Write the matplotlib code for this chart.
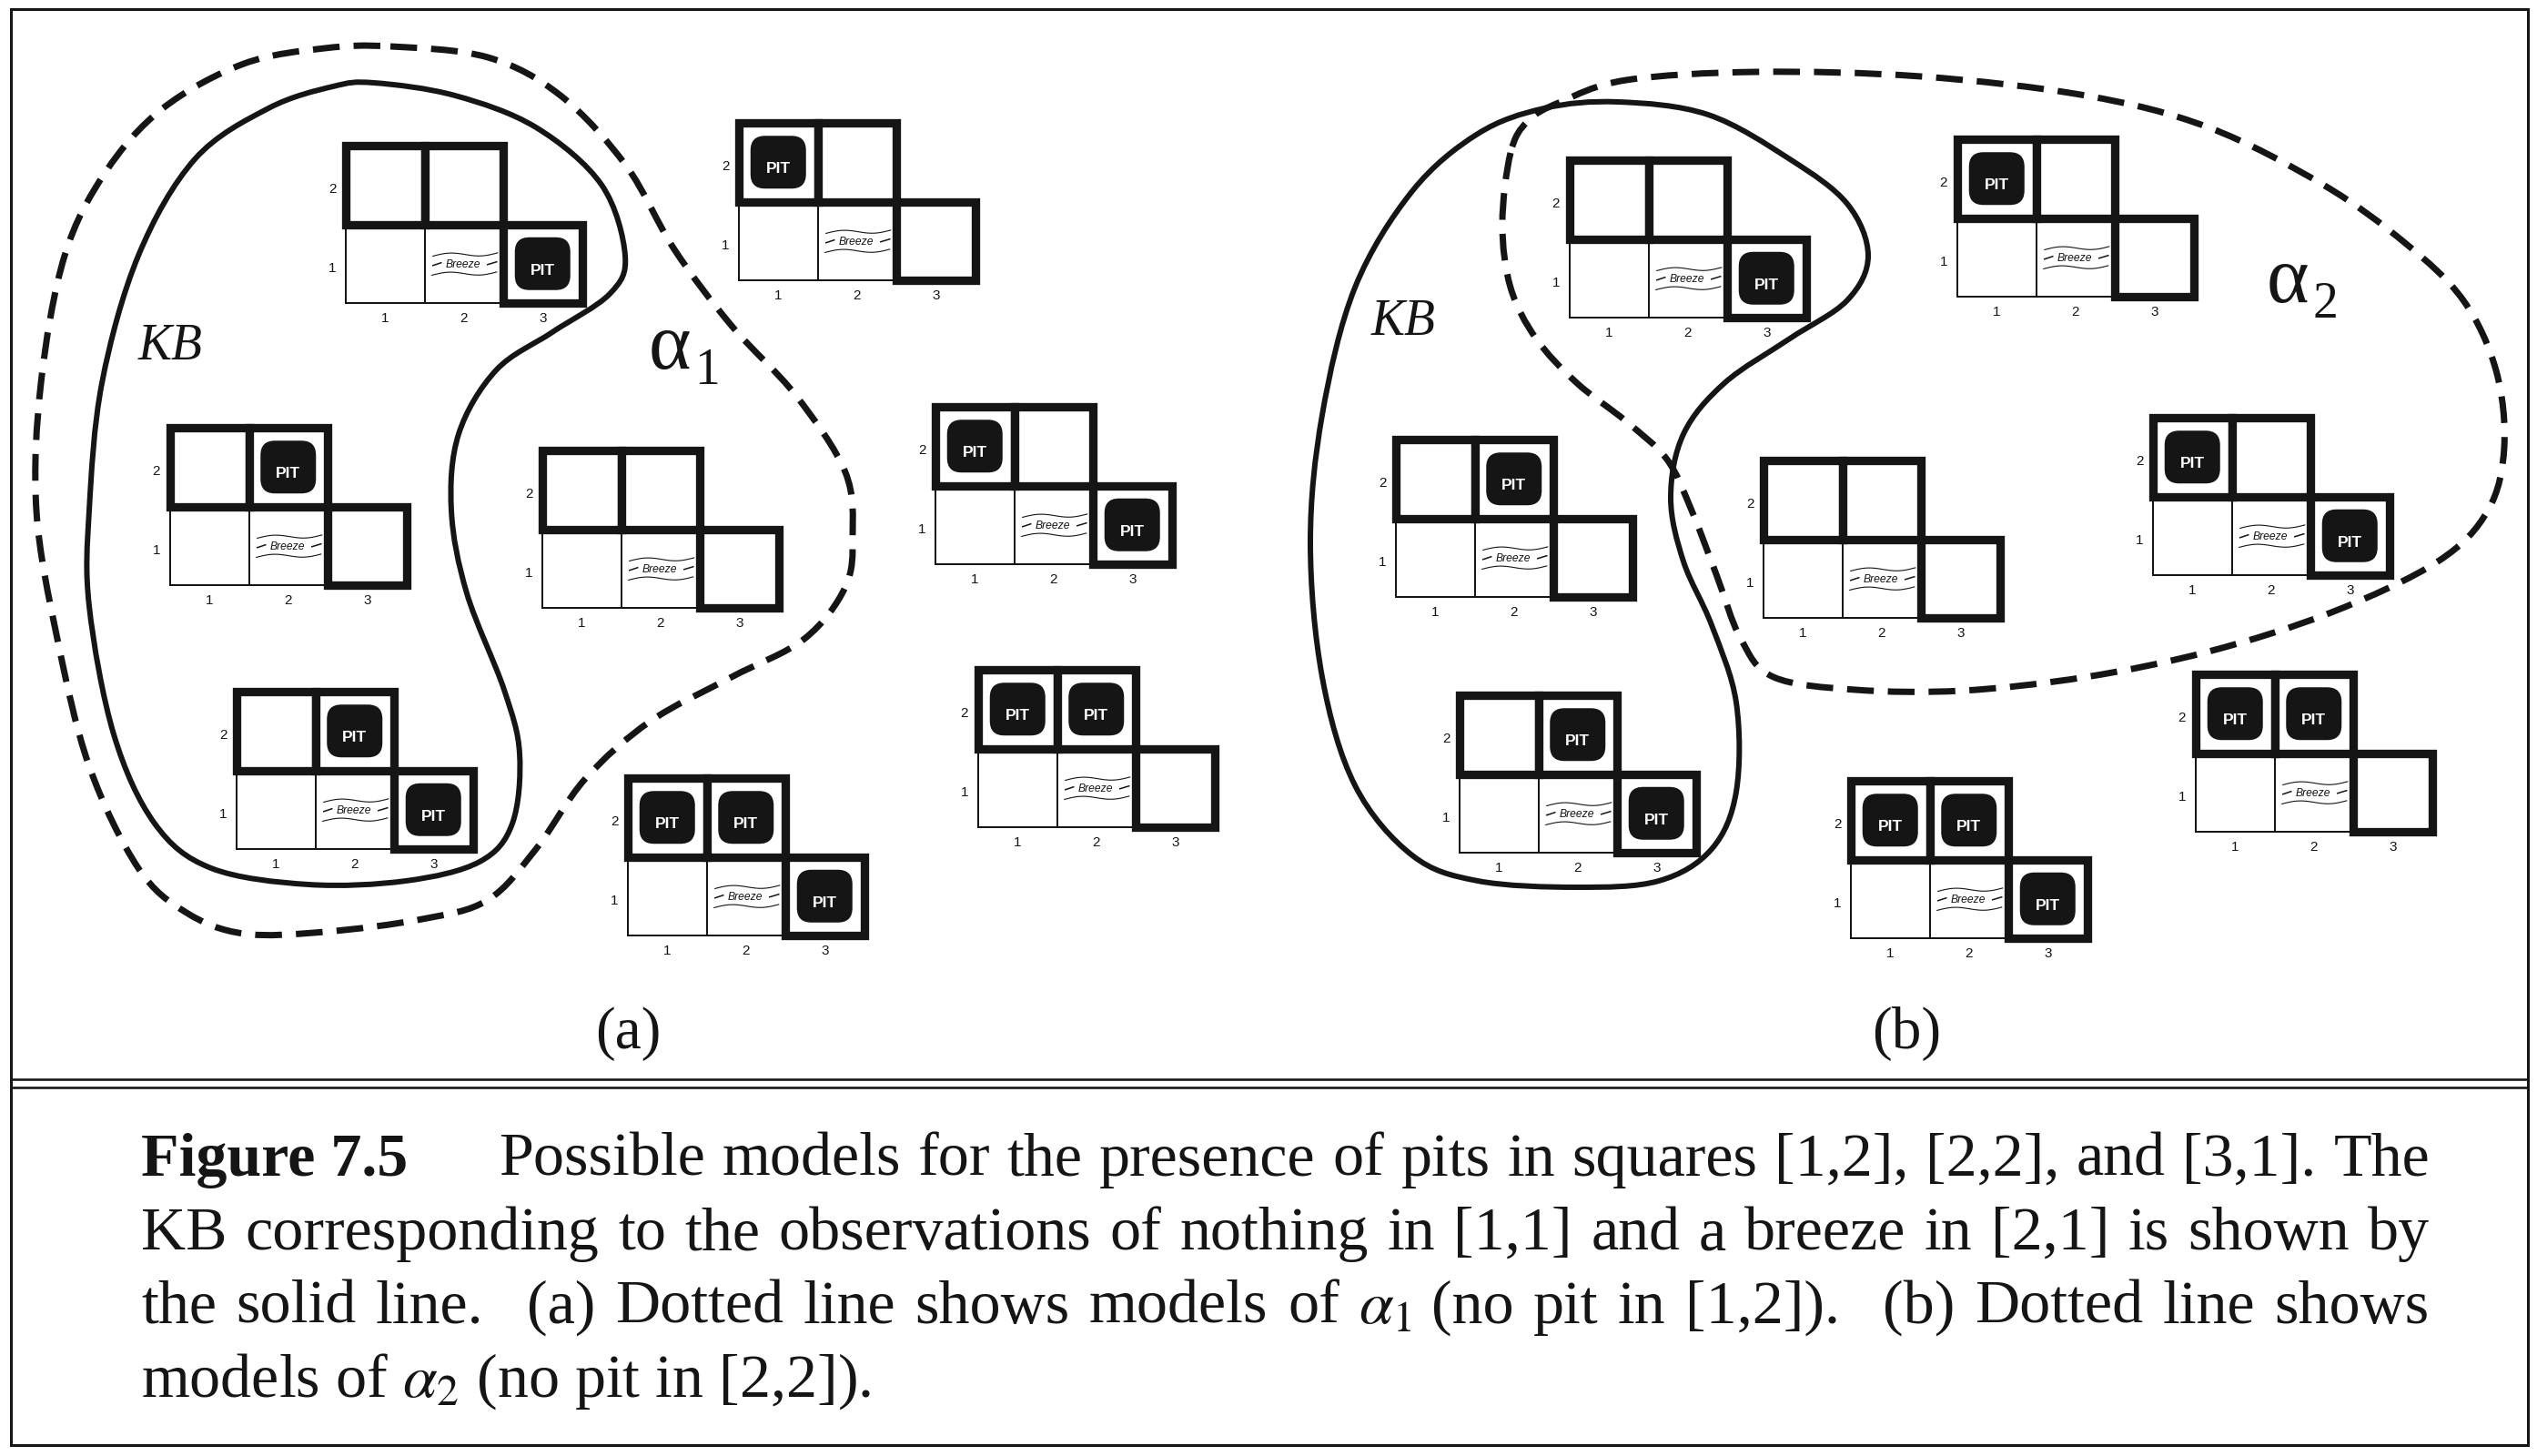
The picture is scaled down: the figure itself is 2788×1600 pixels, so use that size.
"""Figure 7.5: wumpus-world models for pits in [1,2], [2,2] and [3,1]."""

import re
import numpy as np
import matplotlib
matplotlib.use("Agg")
import matplotlib.pyplot as plt
from matplotlib.patches import Rectangle, FancyBboxPatch, PathPatch
from matplotlib.path import Path

plt.rcParams['mathtext.fontset'] = 'stix'

# --- data -------------------------------------------------------------
# squares that may hold a pit, and for each model which of them do
SQUARES = [(1, 2), (2, 2), (3, 1)]
MODELS = [
    (False, False, True),
    (True, False, False),
    (False, True, False),
    (False, False, False),
    (True, False, True),
    (False, True, True),
    (True, True, False),
    (True, True, True),
]
COL_LABELS = ['1', '2', '3']
ROW_LABELS = ['1', '2']
PANEL_LABELS = ['(a)', '(b)']

# top-left corner of each model grid (pixels), same order as MODELS
GRID_POS_A = [(380, 160), (812, 135), (187, 470), (596, 495),
              (1028, 447), (260, 760), (1075, 736), (690, 855)]
GRID_POS_B = [(1725, 176), (2151, 153), (1534, 483), (1938, 506),
              (2366, 459), (1604, 764), (2413, 741), (2034, 858)]

# outlines of the model sets (pixels)
KB_A = [(411, 91), (500, 105), (589, 140), (661, 203), (687, 281), (670, 323),
        (607, 365), (545, 407), (504, 477), (496, 561), (513, 652), (554, 758),
        (571, 828), (563, 905), (527, 947), (446, 968), (339, 972), (232, 954),
        (170, 905), (125, 807), (98, 666), (98, 561), (112, 421), (152, 281),
        (214, 175), (295, 119), (366, 95)]
ALPHA1_A = [(429, 51), (536, 63), (616, 105), (688, 182), (741, 274), (804, 358),
            (875, 435), (929, 519), (937, 589), (929, 645), (884, 702), (804, 744),
            (714, 793), (643, 856), (589, 933), (536, 989), (464, 1010), (357, 1024),
            (268, 1026), (205, 1003), (152, 954), (98, 842), (63, 702), (40, 561),
            (45, 421), (71, 281), (116, 189), (179, 119), (268, 70), (357, 53)]
KB_B = [(1778, 112), (1877, 126), (1967, 175), (2030, 224), (2053, 281),
        (2030, 330), (1967, 372), (1895, 421), (1850, 477), (1836, 547),
        (1850, 617), (1881, 687), (1908, 772), (1908, 870), (1881, 933),
        (1823, 968), (1733, 975), (1624, 968), (1552, 940), (1489, 863),
        (1453, 744), (1440, 596), (1453, 456), (1489, 316), (1552, 210),
        (1624, 147), (1697, 119)]
ALPHA2_B = [(1660, 168), (1651, 246), (1660, 316), (1688, 372), (1733, 421),
            (1787, 463), (1832, 505), (1859, 561), (1886, 631), (1913, 702),
            (1949, 744), (2039, 758), (2156, 759), (2292, 744), (2427, 716),
            (2562, 673), (2679, 617), (2734, 561), (2752, 491), (2743, 407),
            (2707, 330), (2643, 267), (2553, 203), (2427, 140), (2292, 105),
            (2111, 84), (1931, 79), (1787, 88), (1715, 112), (1679, 133)]

CAPTION_HEAD = "Figure 7.5"
CAPTION_LINES = [
    "Possible models for the presence of pits in squares [1,2], [2,2], and [3,1]. The",
    "KB corresponding to the observations of nothing in [1,1] and a breeze in [2,1] is shown by",
    r"the solid line.  (a) Dotted line shows models of $\alpha_1$ (no pit in [1,2]).  (b) Dotted line shows",
    r"models of $\alpha_2$ (no pit in [2,2]).",
]

# --- style --------------------------------------------------------------
W, H = 2788, 1600
DPI = 100
PX = 72.0 / DPI          # points per pixel
INK = '#151515'
CELL = 86.5
THICK = 9.3 * PX
THIN = 2.0 * PX
SERIF = 'Liberation Serif'
SANS = 'Liberation Sans'
CAP_SIZE = 49


def smooth_closed(points):
    """Closed Catmull-Rom outline through the points, as a Bezier path."""
    p = np.asarray(points, dtype=float)
    n = len(p)
    verts = [p[0]]
    codes = [Path.MOVETO]
    for i in range(n):
        p0, p1, p2, p3 = p[i - 1], p[i], p[(i + 1) % n], p[(i + 2) % n]
        verts += [p1 + (p2 - p0) / 6.0, p2 - (p3 - p1) / 6.0, p2]
        codes += [Path.CURVE4] * 3
    return Path(verts, codes)


def draw_breeze(ax, cx, cy):
    xs = np.linspace(-34, 37, 40)
    wave = 2.4 * np.sin((xs + 34) / 71.0 * 2 * np.pi + np.pi) - 0.05 * xs
    ax.plot(cx + xs, cy - 10 + wave, color=INK, lw=0.8, zorder=6)
    ax.plot(cx + xs - 1, cy + 11 + wave, color=INK, lw=0.8, zorder=6)
    ax.plot([cx - 34, cx - 25], [cy + 2, cy - 1], color=INK, lw=1.1, zorder=6)
    ax.plot([cx + 26, cx + 36], [cy + 1, cy - 2], color=INK, lw=1.1, zorder=6)
    ax.text(cx - 1, cy + 4, 'Breeze', ha='center', va='baseline',
            fontsize=8.7, style='italic', family=SANS, color=INK, zorder=6)


def draw_grid(ax, x0, y0, pits):
    s = CELL

    def corner(c, r):
        return x0 + (c - 1) * s, y0 + (2 - r) * s

    for c, r in [(1, 1), (2, 1)]:
        x, y = corner(c, r)
        ax.add_patch(Rectangle((x, y), s, s, fc='white', ec=INK, lw=THIN, zorder=3))
    for (c, r), pit in zip(SQUARES, pits):
        x, y = corner(c, r)
        ax.add_patch(Rectangle((x, y), s, s, fc='white', ec=INK, lw=THICK,
                               joinstyle='miter', zorder=4))
        if pit:
            cx, cy = x + s / 2, y + s / 2
            ax.add_patch(FancyBboxPatch((cx - 30.5, cy - 29), 61, 58,
                                        boxstyle="round,pad=0,rounding_size=16",
                                        fc=INK, ec='none', zorder=5))
            ax.text(cx, cy + 12, 'PIT', ha='center', va='baseline', fontsize=12.5,
                    weight='bold', family=SANS, color='white', zorder=6)
    bx, by = corner(2, 1)
    draw_breeze(ax, bx + s / 2, by + s / 2)

    for r, lab in zip([1, 2], ROW_LABELS):
        ax.text(x0 - 15, y0 + (2 - r + 0.5) * s + 5, lab, ha='center', va='center',
                fontsize=11, family=SANS, color=INK)
    for c, lab in zip([1, 2, 3], COL_LABELS):
        ax.text(x0 + (c - 0.5) * s, y0 + 2 * s + 17, lab, ha='center', va='center',
                fontsize=11, family=SANS, color=INK)


def justify(ax, renderer, line, x_left, x_right, y, **kw):
    parts = re.split(r'( +)', line)
    words = parts[0::2]
    gaps = [1.0 if len(g) == 1 else 2.2 for g in parts[1::2]]
    texts = [ax.text(0, y, w, ha='left', va='baseline', **kw) for w in words]
    widths = [t.get_window_extent(renderer).width for t in texts]
    unit = (x_right - x_left - sum(widths)) / sum(gaps)
    x = x_left
    for i, t in enumerate(texts):
        t.set_x(x)
        x += widths[i] + (unit * gaps[i] if i < len(gaps) else 0)


fig = plt.figure(figsize=(W / DPI, H / DPI), dpi=DPI)
ax = fig.add_axes([0, 0, 1, 1])
ax.set_xlim(0, W)
ax.set_ylim(H, 0)
ax.axis('off')

# model set outlines
for pts in (KB_A, KB_B):
    ax.add_patch(PathPatch(smooth_closed(pts), fill=False, ec=INK, lw=6 * PX,
                           zorder=2))
for pts in (ALPHA1_A, ALPHA2_B):
    ax.add_patch(PathPatch(smooth_closed(pts), fill=False, ec=INK, lw=7 * PX,
                           linestyle=(0, (4.2, 2.2)), capstyle='butt', zorder=2))

for positions in (GRID_POS_A, GRID_POS_B):
    for (x0, y0), pits in zip(positions, MODELS):
        draw_grid(ax, x0, y0, pits)

# set names
ax.text(152, 395, 'KB', fontsize=40, style='italic', family=SERIF, color=INK)
ax.text(1507, 368, 'KB', fontsize=40, style='italic', family=SERIF, color=INK)
ax.text(713, 405, 'α', fontsize=64, family=SERIF, color=INK)
ax.text(763, 422, '1', fontsize=40, family=SERIF, color=INK)
ax.text(2491, 332, 'α', fontsize=64, family=SERIF, color=INK)
ax.text(2541, 349, '2', fontsize=40, family=SERIF, color=INK)

for xc, lab in zip([690, 2095], PANEL_LABELS):
    ax.text(xc, 1152, lab, ha='center', va='baseline', fontsize=47,
            family=SERIF, color=INK)

# frame and separator
ax.add_patch(Rectangle((12, 10), 2766, 1578, fill=False, ec=INK, lw=3 * PX,
                       zorder=7))
for yy in (1186, 1195):
    ax.plot([12, 2778], [yy, yy], color=INK, lw=2.6 * PX, zorder=7)

# caption
renderer = fig.canvas.get_renderer()
cap = dict(fontsize=CAP_SIZE, family=SERIF, color=INK)
baselines = [1292, 1373, 1454, 1535]
ax.text(155, baselines[0], CAPTION_HEAD, ha='left', va='baseline',
        weight='bold', **cap)
justify(ax, renderer, CAPTION_LINES[0], 548, 2670, baselines[0], **cap)
justify(ax, renderer, CAPTION_LINES[1], 155, 2670, baselines[1], **cap)
justify(ax, renderer, CAPTION_LINES[2], 155, 2670, baselines[2], **cap)
ax.text(155, baselines[3], CAPTION_LINES[3], ha='left', va='baseline', **cap)

fig.savefig('out.png', dpi=DPI, facecolor='white')
